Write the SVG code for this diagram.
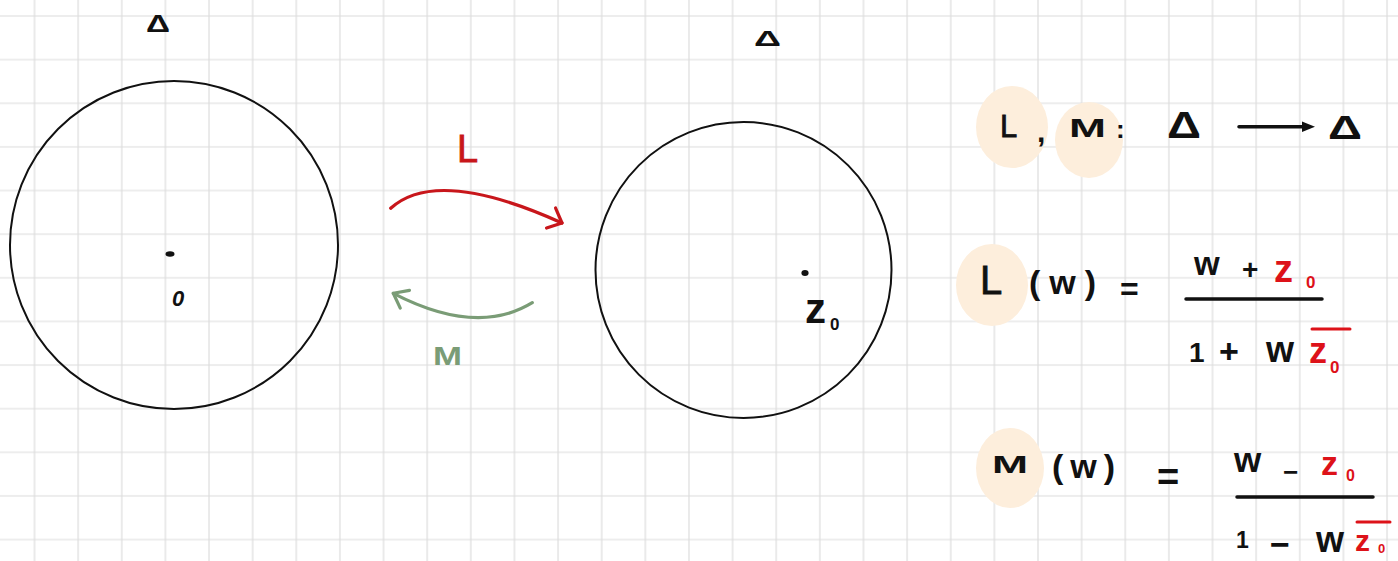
<svg xmlns="http://www.w3.org/2000/svg" width="1398" height="561" viewBox="0 0 1398 561">
<defs>
<pattern id="grid" patternUnits="userSpaceOnUse" x="12.7" y="-5.8" width="43.63" height="43.63">
<path d="M21.815,0 V43.63 M0,21.815 H43.63" stroke="#dcdcdc" stroke-width="1.2" fill="none"/>
</pattern>
<marker id="headRed" markerUnits="userSpaceOnUse" orient="auto" refX="0" refY="0" markerWidth="40" markerHeight="40" viewBox="-20 -20 40 40" overflow="visible">
<path d="M-12,-11 L0,0 L-12,11" fill="none" stroke="#c8161b" stroke-width="3.2" stroke-linecap="round" stroke-linejoin="round"/>
</marker>
<marker id="headGreen" markerUnits="userSpaceOnUse" orient="auto" refX="0" refY="0" markerWidth="40" markerHeight="40" viewBox="-20 -20 40 40" overflow="visible">
<path d="M-13,-10 L0,0 L-13,10" fill="none" stroke="#7a9c76" stroke-width="3.2" stroke-linecap="round" stroke-linejoin="round"/>
</marker>
</defs>
<style>
.hw{font-family:"Liberation Sans",Arial,sans-serif;font-weight:bold;fill:#111}
.thin{font-weight:normal;stroke-width:0.8}
.red{fill:#dd1219}
.disk{fill:none;stroke:#111;stroke-width:2}
.hl{fill:#fdeedc}
.bar{stroke:#111;stroke-width:3.5;stroke-linecap:round;fill:none}
.rbar{stroke:#dd1219;stroke-width:3;stroke-linecap:round;fill:none}
</style>
<rect width="1398" height="561" fill="#ffffff"/>
<rect width="1398" height="561" fill="url(#grid)"/>

<g id="disk-left">
<circle class="disk" cx="174" cy="245" r="164"/>
<text class="hw" x="146" y="32" font-size="24" textLength="24" lengthAdjust="spacingAndGlyphs">Δ</text>
<ellipse cx="170" cy="254" rx="4.5" ry="2.8" fill="#111"/>
<text class="hw" x="172" y="306" font-size="22" font-style="italic">0</text>
</g>

<g id="disk-right">
<circle class="disk" cx="743.5" cy="270" r="148"/>
<text class="hw" x="754" y="46" font-size="22" textLength="27" lengthAdjust="spacingAndGlyphs">Δ</text>
<ellipse cx="805" cy="273" rx="3.6" ry="3" fill="#111"/>
<text class="hw" x="805" y="323" font-size="42">z<tspan x="830" y="330" font-size="17">0</tspan></text>
</g>

<g id="connectors">
<path d="M390.7,208.3 Q437,166.5 562,223" fill="none" stroke="#c8161b" stroke-width="3.2" stroke-linecap="round" marker-end="url(#headRed)"/>
<path d="M532.3,302.7 Q477,336.6 393.3,293.3" fill="none" stroke="#7a9c76" stroke-width="3.2" stroke-linecap="round" marker-end="url(#headGreen)"/>
</g>

<g id="label-L">
<text class="hw thin" x="457" y="162" font-size="38" style="fill:#c8161b;stroke:#c8161b">L</text>
</g>
<g id="label-M">
<text class="hw" x="433" y="365" font-size="26" textLength="29" lengthAdjust="spacingAndGlyphs" style="fill:#7a9c76">M</text>
</g>

<g id="formula-maps">
<ellipse class="hl" cx="1012" cy="127" rx="36" ry="41"/>
<ellipse class="hl" cx="1089" cy="140" rx="34" ry="38"/>
<text class="hw thin" x="1000" y="137" font-size="31" style="stroke:#111">L</text>
<text class="hw" x="1037" y="142" font-size="30">,</text>
<text class="hw" x="1069" y="137" font-size="26" textLength="37" lengthAdjust="spacingAndGlyphs">M</text>
<text class="hw" x="1116" y="138" font-size="26">:</text>
<text class="hw" x="1167" y="138" font-size="36" textLength="34" lengthAdjust="spacingAndGlyphs">Δ</text>
<path d="M1239,126.8 H1304" class="bar" stroke-width="3"/>
<path d="M1302,121.5 L1315,126.8 L1302,132 Z" fill="#111"/>
<text class="hw" x="1328" y="139" font-size="34" textLength="34" lengthAdjust="spacingAndGlyphs">Δ</text>
</g>

<g id="formula-L">
<ellipse class="hl" cx="992" cy="285" rx="36" ry="41"/>
<text class="hw thin" x="980" y="294" font-size="40" style="stroke:#111">L</text>
<text class="hw" x="1029" y="294" font-size="34" letter-spacing="9">(w)</text>
<text class="hw" x="1120" y="300" font-size="32">=</text>
<text class="hw" x="1194" y="275" font-size="33">w</text>
<text class="hw" x="1242" y="279" font-size="28">+</text>
<text class="hw red" x="1274" y="282" font-size="38">z<tspan x="1306" y="288" font-size="17">0</tspan></text>
<path class="bar" d="M1186,299 H1322"/>
<text class="hw" x="1189" y="362" font-size="28">1</text>
<text class="hw" x="1219" y="363" font-size="34">+</text>
<text class="hw" x="1266" y="362" font-size="36">w</text>
<text class="hw red" x="1309" y="363" font-size="36">z<tspan x="1330" y="373" font-size="17">0</tspan></text>
<path class="rbar" d="M1312,329 H1350"/>
</g>

<g id="formula-M">
<ellipse class="hl" cx="1010" cy="468" rx="34" ry="40"/>
<text class="hw" x="992" y="473" font-size="24" textLength="36" lengthAdjust="spacingAndGlyphs">M</text>
<text class="hw" x="1052" y="478" font-size="34" letter-spacing="7">(w)</text>
<text class="hw" x="1157" y="490" font-size="38">=</text>
<text class="hw" x="1234" y="472" font-size="35">w</text>
<text class="hw" x="1283" y="481" font-size="26">−</text>
<text class="hw red" x="1321" y="475" font-size="34">z<tspan x="1346" y="481" font-size="16">0</tspan></text>
<path class="bar" d="M1237,497 H1373"/>
<text class="hw" x="1236" y="548" font-size="23">1</text>
<text class="hw" x="1270" y="556" font-size="34">−</text>
<text class="hw" x="1316" y="552" font-size="36">w</text>
<text class="hw red" x="1355" y="551" font-size="30">z<tspan x="1378" y="553" font-size="13">0</tspan></text>
<path class="rbar" d="M1357,522 H1390"/>
</g>
</svg>
